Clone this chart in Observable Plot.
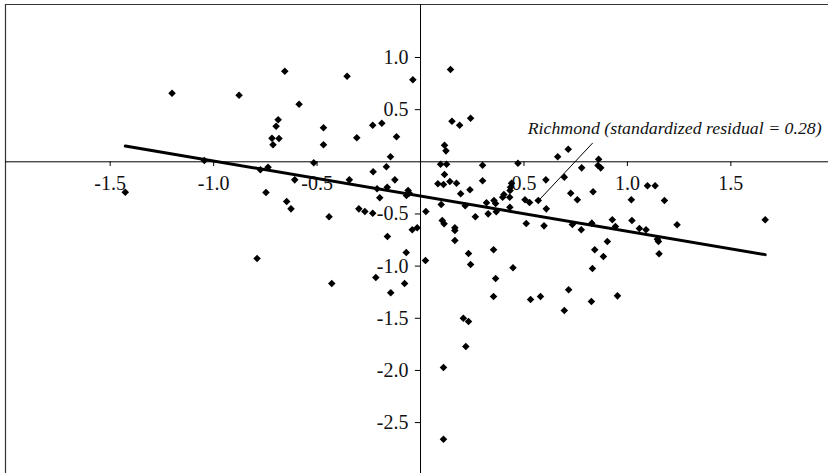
<!DOCTYPE html>
<html>
<head>
<meta charset="utf-8">
<script src="https://cdn.jsdelivr.net/npm/d3@7"></script>
<script src="https://cdn.jsdelivr.net/npm/@observablehq/plot@0.6"></script>
<style>
  html, body { margin: 0; padding: 0; background: #fff; }
  #chart svg { display: block; }
</style>
</head>
<body>
<div id="chart"></div>
<script>
const pointX = [
  -1.201, -0.877, -0.656, -0.355, -0.037, -0.587, -0.688, -0.698, -0.718, -0.684,
  -0.713, -0.469, -0.469, -0.308, -0.231, -0.187, -0.116, -0.145, -0.516, -1.045,
  -1.427, -0.774, -0.737, -0.165, -0.229, -0.124, -0.344, -0.608, -0.161, -0.210,
  -0.197, -0.060, -0.068, -0.055, -0.747, -0.647, -0.626, -0.442, -0.298, -0.269,
  -0.231, -0.040, -0.016, -0.160, -0.069, 0.024, -0.790, -0.216, -0.077, -0.429,
  -0.144,
  0.145, 0.152, 0.189, 0.242, 0.116, 0.123, 0.097, 0.126, 0.300, 0.471,
  0.663, 0.714, 0.861, 0.858, 0.871, 0.779, 0.116, 0.084, 0.111, 0.142,
  0.174, 0.300, 0.239, 0.194, 0.100, 0.216, 0.265, 0.319, 0.327, 0.366,
  0.355, 0.397, 0.403, 0.431, 0.435, 0.440, 0.432, 0.505, 0.527, 0.569,
  0.606, 0.608, 0.511, 0.597, 0.695, 0.726, 0.758, 0.834, 0.734, 0.777,
  0.828, 0.927, 0.942, 1.019, 1.022, 1.058, 1.090, 1.097, 1.134, 1.179,
  1.240, 1.145, 1.150, 1.153, 1.666, 0.903, 0.842, 0.884, 0.831, 0.952,
  0.826, 0.026, 0.105, 0.114, 0.166, 0.166, 0.166, 0.232, 0.242, 0.353,
  0.363, 0.353, 0.447, 0.532, 0.580, 0.695, 0.716, 0.207, 0.232, 0.219,
  0.111, 0.111, 0.363, 0.433
];
const pointY = [
  0.658, 0.639, 0.869, 0.821, 0.786, 0.552, 0.403, 0.341, 0.226, 0.223,
  0.163, 0.326, 0.163, 0.230, 0.351, 0.370, 0.240, 0.048, -0.010, 0.012,
  -0.291, -0.077, -0.052, -0.048, -0.096, -0.173, -0.173, -0.173, -0.243, -0.259,
  -0.345, -0.275, -0.323, -0.300, -0.294, -0.381, -0.451, -0.527, -0.451, -0.477,
  -0.493, -0.652, -0.633, -0.716, -0.870, -0.946, -0.927, -1.109, -1.167, -1.167,
  -1.256,
  0.885, 0.389, 0.351, 0.418, 0.159, 0.105, -0.023, -0.023, -0.033, -0.013,
  0.048, 0.121, 0.025, -0.035, -0.058, -0.058, -0.122, -0.211, -0.218, -0.189,
  -0.205, -0.182, -0.268, -0.307, -0.409, -0.422, -0.527, -0.393, -0.499, -0.479,
  -0.371, -0.339, -0.314, -0.339, -0.243, -0.205, -0.435, -0.364, -0.390, -0.371,
  -0.173, -0.451, -0.592, -0.614, -0.147, -0.301, -0.364, -0.288, -0.601, -0.652,
  -0.588, -0.556, -0.620, -0.364, -0.563, -0.640, -0.652, -0.230, -0.230, -0.371,
  -0.604, -0.742, -0.764, -0.882, -0.556, -0.764, -0.844, -0.908, -1.023, -1.285,
  -1.339, -0.477, -0.563, -0.594, -0.633, -0.659, -0.755, -0.879, -0.985, -0.844,
  -1.119, -1.291, -1.016, -1.320, -1.291, -1.426, -1.227, -1.500, -1.531, -1.771,
  -1.972, -2.660, -0.400, -0.275
];

// Axis tick values and labels
const xTicks = [-1.5, -1.0, -0.5, 0.5, 1.0, 1.5];
const xTickLabels = ["-1.5", "-1.0", "-0.5", "0.5", "1.0", "1.5"];
const yTicks = [1.0, 0.5, -0.5, -1.0, -1.5, -2.0, -2.5];
const yTickLabels = ["1.0", "0.5", "-0.5", "-1.0", "-1.5", "-2.0", "-2.5"];

// Annotation
const annotationText = ["Richmond (standardized residual = 0.28)"];
const annotationX = [0.518];
const annotationY = [0.314];
const leaderX = [0.831, 0.571];
const leaderY = [0.178, -0.371];

const points = pointX.map((x, i) => ({x, y: pointY[i]}));
const xLabelData = xTicks.map((v, i) => ({v, label: xTickLabels[i]}));
const yLabelData = yTicks.map((v, i) => ({v, label: yTickLabels[i]}));
const leader = leaderX.map((x, i) => ({x, y: leaderY[i]}));
const annotation = annotationText.map((t, i) => ({t, x: annotationX[i], y: annotationY[i]}));

const xDomain = [-2.006, 1.972];
const yDomain = [-2.988, 1.508];

const diamond = {
  draw(ctx, size) {
    const r = Math.sqrt(size) * 0.62625;
    ctx.moveTo(0, -r); ctx.lineTo(r, 0); ctx.lineTo(0, r); ctx.lineTo(-r, 0); ctx.closePath();
  }
};

const font = "'Liberation Serif', 'Times New Roman', serif";

const chart = Plot.plot({
  width: 828,
  height: 473,
  marginLeft: 5,
  marginRight: 0,
  marginTop: 4,
  marginBottom: 0,
  style: {fontFamily: font, background: "white"},
  x: {domain: xDomain, axis: null},
  y: {domain: yDomain, axis: null},
  marks: [
    // frame (top & left only; the rest is cropped)
    Plot.ruleY([yDomain[1]], {stroke: "#333", strokeWidth: 1.2}),
    Plot.ruleX([xDomain[0]], {stroke: "#333", strokeWidth: 1.2}),
    // tick labels
    Plot.text(xLabelData, {x: "v", y: 0, text: "label", dy: 22, fontSize: 20, fill: "#111", lineAnchor: "middle"}),
    Plot.text(yLabelData, {x: 0, y: "v", text: "label", dx: -12, textAnchor: "end", fontSize: 20, fill: "#111", lineAnchor: "middle"}),
    // axes through origin
    Plot.ruleY([0], {stroke: "black", strokeWidth: 1}),
    Plot.ruleX([0], {stroke: "black", strokeWidth: 1}),
    Plot.ruleX(xTicks, {y1: 0, y2: -0.045, stroke: "black", strokeWidth: 1}),
    Plot.ruleY(yTicks, {x1: 0, x2: -0.025, stroke: "black", strokeWidth: 1}),
    // regression line
    Plot.linearRegressionY(points, {x: "x", y: "y", ci: 0, stroke: "black", strokeWidth: 3}),
    // points
    Plot.dot(points, {x: "x", y: "y", symbol: diamond, r: 3.4, fill: "black", stroke: "none"}),
    // annotation
    Plot.line(leader, {x: "x", y: "y", stroke: "black", strokeWidth: 1}),
    Plot.text(annotation, {x: "x", y: "y", text: "t", textAnchor: "start", fontSize: 16.5, fontStyle: "italic", fill: "#111", lineAnchor: "middle", className: "annot"})
  ]
});

// fit the italic annotation to the width it occupies in the reference
chart.querySelectorAll(".annot text").forEach(t => {
  t.setAttribute("textLength", "294");
  t.setAttribute("lengthAdjust", "spacingAndGlyphs");
});

document.getElementById("chart").appendChild(chart);
</script>
</body>
</html>
